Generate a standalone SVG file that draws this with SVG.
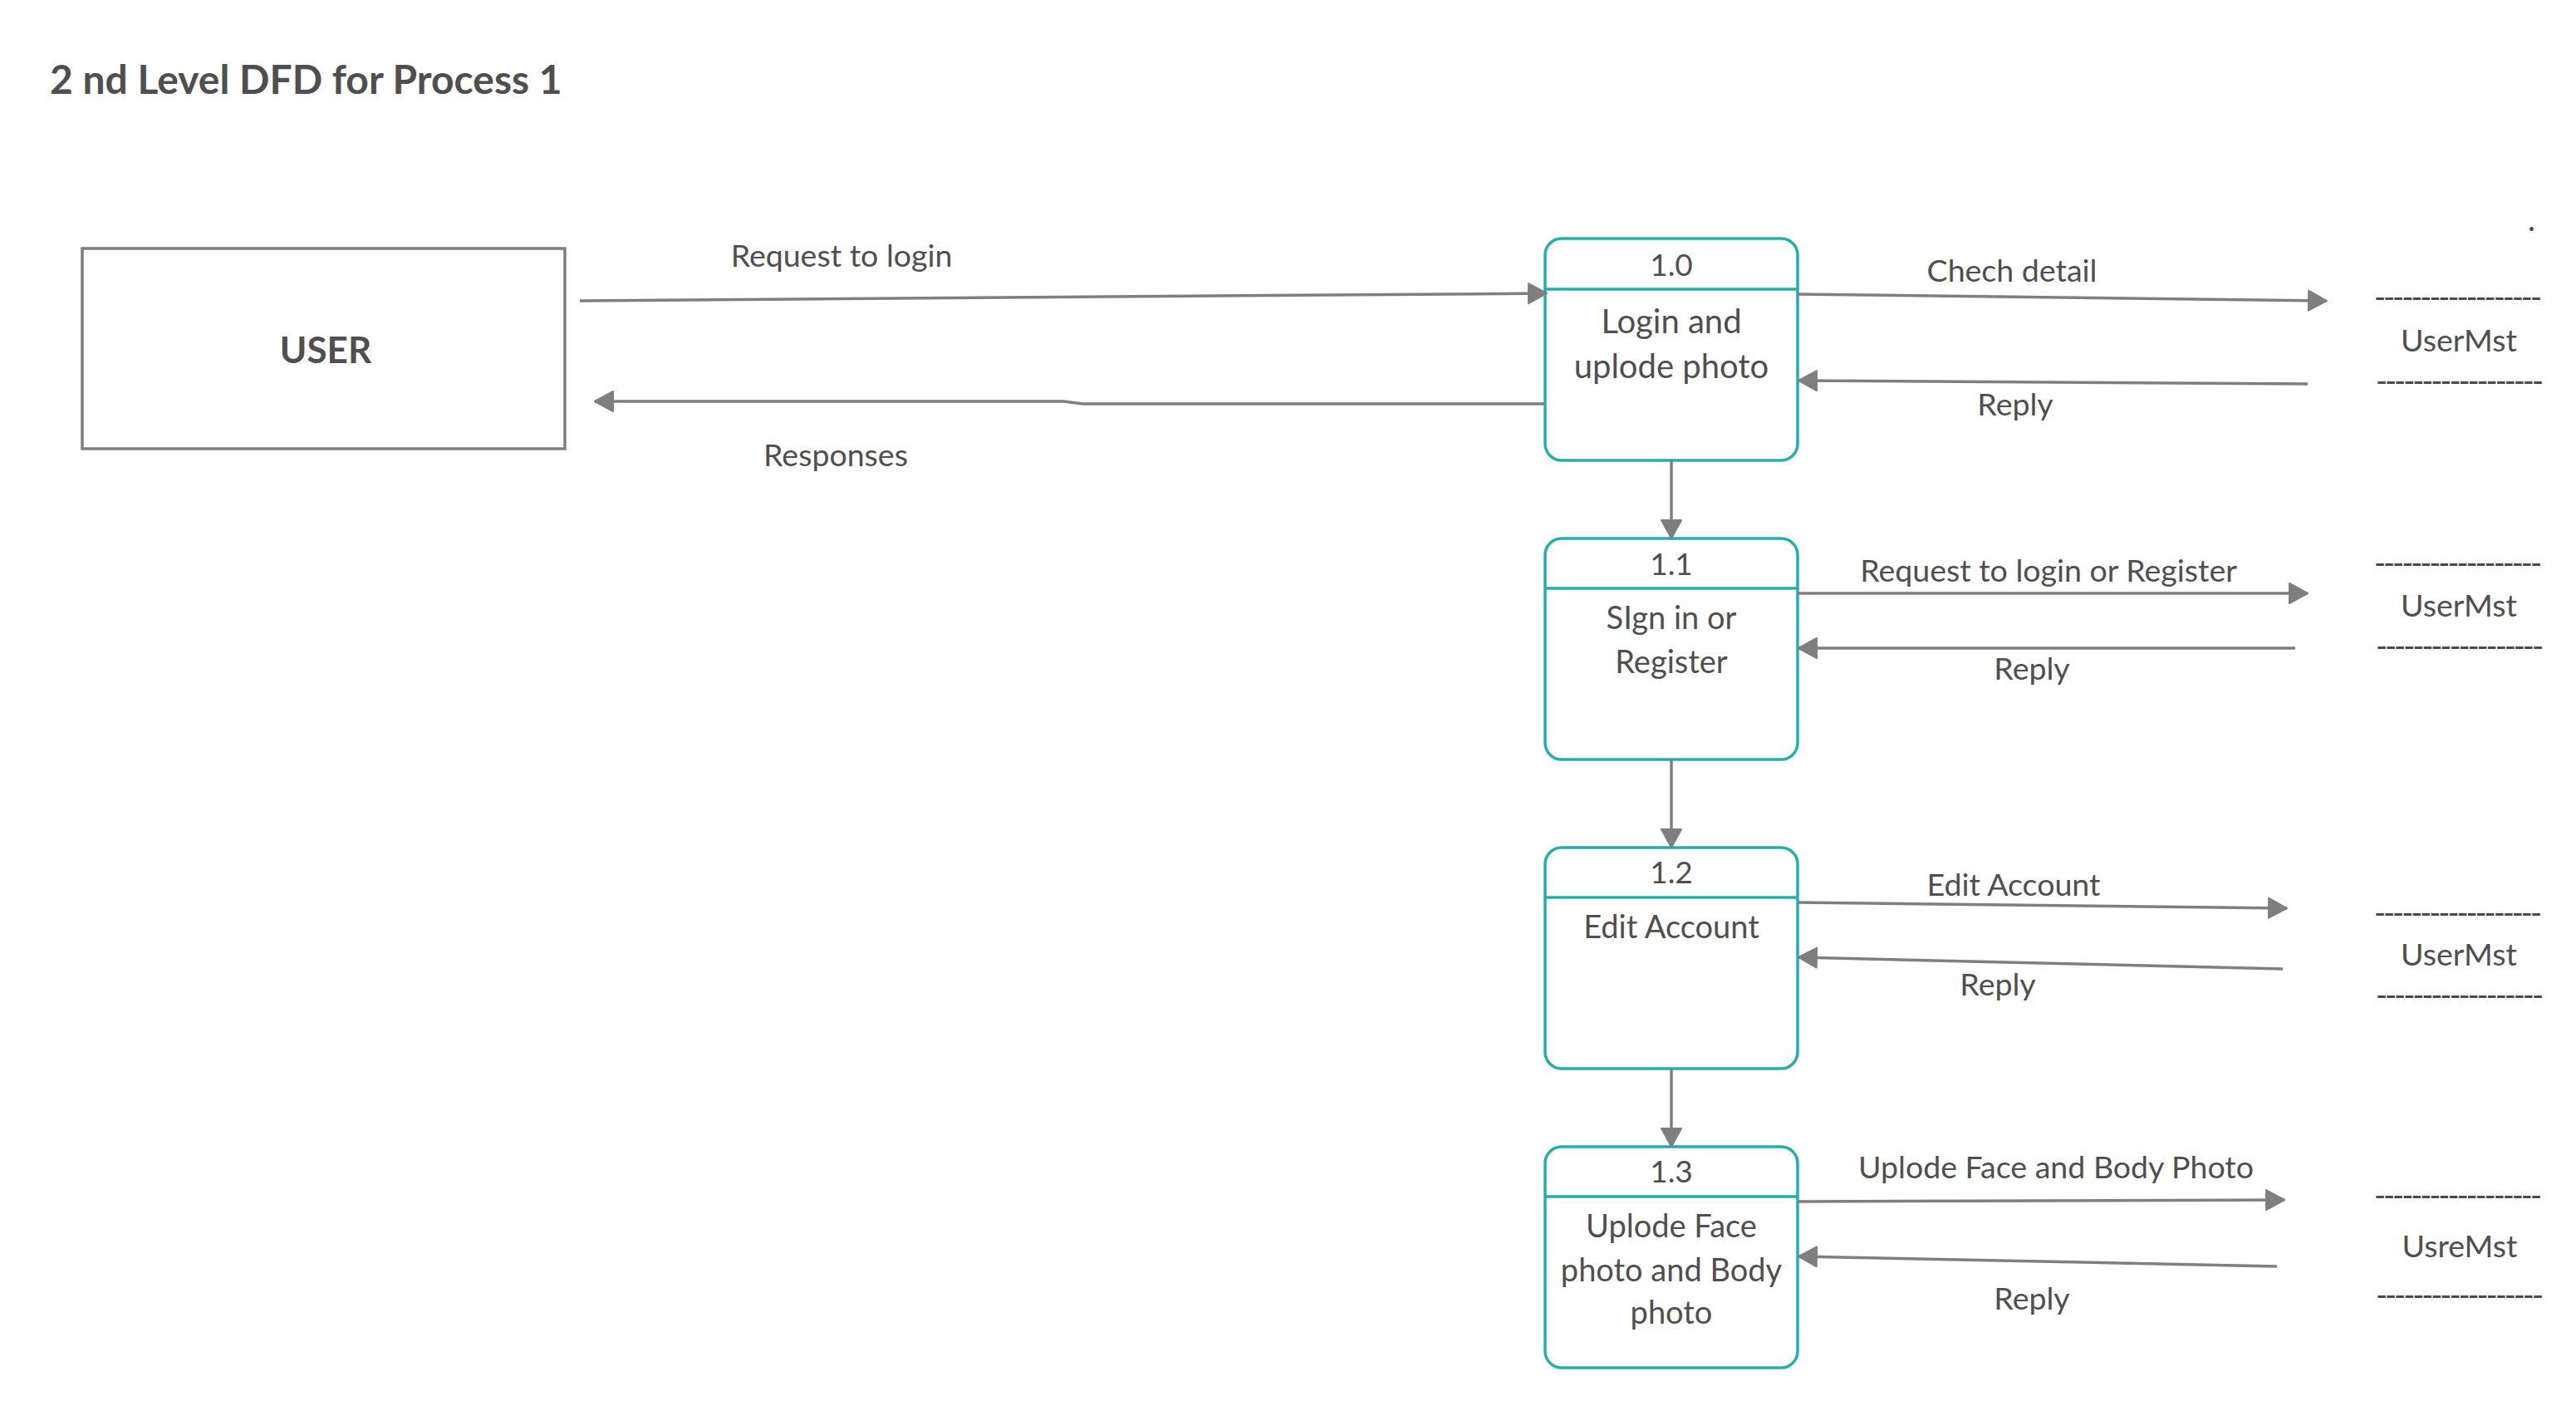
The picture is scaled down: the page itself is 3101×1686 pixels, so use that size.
<svg xmlns="http://www.w3.org/2000/svg" width="3101" height="1686" viewBox="0 0 3101 1686">
  <style>
    text { font-family: Lato, "Liberation Sans", sans-serif; fill: #4f4f4f; }
    .title { font-size: 48px; font-weight: bold; }
    .entity { fill: #ffffff; stroke: #7f7f7f; stroke-width: 3.5; }
    .entity-label { font-size: 44px; font-weight: bold; text-anchor: middle; }
    .proc { fill: #ffffff; stroke: #27aeab; stroke-width: 3.5; }
    .proc-div { stroke: #27aeab; stroke-width: 3.5; }
    .pnum { font-size: 37px; text-anchor: middle; }
    .pname { font-size: 38px; text-anchor: middle; }
    .pname-lg { font-size: 40px; text-anchor: middle; }
    .flow { fill: none; stroke: #7f7f7f; stroke-width: 3.5; }
    .flow-label { font-size: 37.5px; text-anchor: middle; }
    .store-label { font-size: 37.5px; text-anchor: middle; }
    .store-rule { font-size: 38px; fill: #4a4a4a; }
  </style>
  <defs>
    <marker id="arrow" markerUnits="userSpaceOnUse" markerWidth="30" markerHeight="30" refX="23" refY="13" orient="auto">
      <path d="M1,1 L23,13 L1,25 z" fill="#7f7f7f" stroke="#7f7f7f" stroke-width="2" stroke-linejoin="round"/>
    </marker>
  </defs>

  <rect width="3101" height="1686" fill="#ffffff"/>

  <text class="title" x="60" y="113">2 nd Level DFD for Process 1</text>

  <!-- external entity -->
  <g id="user">
    <rect class="entity" x="99" y="299" width="581" height="241"/>
    <text class="entity-label" x="392" y="437">USER</text>
  </g>

  <!-- processes -->
  <g id="p1-0">
    <rect class="proc" x="1860" y="287" width="304" height="267" rx="20" ry="20"/>
    <line class="proc-div" x1="1860" y1="348" x2="2164" y2="348"/>
    <text class="pnum" x="2012" y="332">1.0</text>
    <text class="pname-lg" x="2012" y="401">Login and</text>
    <text class="pname-lg" x="2012" y="455">uplode photo</text>
  </g>
  <g id="p1-1">
    <rect class="proc" x="1860" y="648" width="304" height="266" rx="20" ry="20"/>
    <line class="proc-div" x1="1860" y1="708" x2="2164" y2="708"/>
    <text class="pnum" x="2012" y="692">1.1</text>
    <text class="pname" x="2012" y="757">SIgn in or</text>
    <text class="pname" x="2012" y="810">Register</text>
  </g>
  <g id="p1-2">
    <rect class="proc" x="1860" y="1020" width="304" height="266" rx="20" ry="20"/>
    <line class="proc-div" x1="1860" y1="1080" x2="2164" y2="1080"/>
    <text class="pnum" x="2012" y="1063">1.2</text>
    <text class="pname" x="2012" y="1129">Edit Account</text>
  </g>
  <g id="p1-3">
    <rect class="proc" x="1860" y="1380" width="304" height="266" rx="20" ry="20"/>
    <line class="proc-div" x1="1860" y1="1440" x2="2164" y2="1440"/>
    <text class="pnum" x="2012" y="1423">1.3</text>
    <text class="pname" x="2012" y="1489">Uplode Face</text>
    <text class="pname" x="2012" y="1542">photo and Body</text>
    <text class="pname" x="2012" y="1593">photo</text>
  </g>

  <!-- data stores (open-ended, ruled with hyphens) -->
  <g id="store-1">
    <text class="store-rule" x="2858" y="371" textLength="202" lengthAdjust="spacing">------------------</text>
    <text class="store-label" x="2960" y="423">UserMst</text>
    <text class="store-rule" x="2860" y="472" textLength="202" lengthAdjust="spacing">------------------</text>
  </g>
  <g id="store-2">
    <text class="store-rule" x="2858" y="691" textLength="202" lengthAdjust="spacing">------------------</text>
    <text class="store-label" x="2960" y="742">UserMst</text>
    <text class="store-rule" x="2860" y="791" textLength="202" lengthAdjust="spacing">------------------</text>
  </g>
  <g id="store-3">
    <text class="store-rule" x="2858" y="1112" textLength="202" lengthAdjust="spacing">------------------</text>
    <text class="store-label" x="2960" y="1162">UserMst</text>
    <text class="store-rule" x="2860" y="1211" textLength="202" lengthAdjust="spacing">------------------</text>
  </g>
  <g id="store-4">
    <text class="store-rule" x="2858" y="1452" textLength="202" lengthAdjust="spacing">------------------</text>
    <text class="store-label" x="2961" y="1513">UsreMst</text>
    <text class="store-rule" x="2860" y="1572" textLength="202" lengthAdjust="spacing">------------------</text>
  </g>

  <text class="store-rule" x="3043" y="278" font-size="24">.</text>

  <!-- data flows -->
  <g id="connectors">
    <path class="flow" d="M698,362 L1862,353" marker-end="url(#arrow)"/>
    <path class="flow" d="M1859,486 L1304,486 L1280,483 L716,483" marker-end="url(#arrow)"/>

    <path class="flow" d="M2164,354 L2801,362" marker-end="url(#arrow)"/>
    <path class="flow" d="M2778,462 L2165,458" marker-end="url(#arrow)"/>
    <path class="flow" d="M2164,714 L2778,714" marker-end="url(#arrow)"/>
    <path class="flow" d="M2763,780 L2165,780" marker-end="url(#arrow)"/>
    <path class="flow" d="M2164,1086 L2753,1093" marker-end="url(#arrow)"/>
    <path class="flow" d="M2748,1166 L2165,1152" marker-end="url(#arrow)"/>
    <path class="flow" d="M2164,1446 L2750,1444" marker-end="url(#arrow)"/>
    <path class="flow" d="M2741,1524 L2165,1512" marker-end="url(#arrow)"/>

    <path class="flow" d="M2012,554 L2012,648" marker-end="url(#arrow)"/>
    <path class="flow" d="M2012,914 L2012,1020" marker-end="url(#arrow)"/>
    <path class="flow" d="M2012,1286 L2012,1380" marker-end="url(#arrow)"/>
  </g>

  <!-- flow labels -->
  <text class="flow-label" x="1013" y="321">Request to login</text>
  <text class="flow-label" x="1006" y="561">Responses</text>
  <text class="flow-label" x="2422" y="339">Chech detail</text>
  <text class="flow-label" x="2426" y="500">Reply</text>
  <text class="flow-label" x="2466" y="700">Request to login or Register</text>
  <text class="flow-label" x="2446" y="818">Reply</text>
  <text class="flow-label" x="2424" y="1078">Edit Account</text>
  <text class="flow-label" x="2405" y="1198">Reply</text>
  <text class="flow-label" x="2475" y="1418">Uplode Face and Body Photo</text>
  <text class="flow-label" x="2446" y="1576">Reply</text>
</svg>
